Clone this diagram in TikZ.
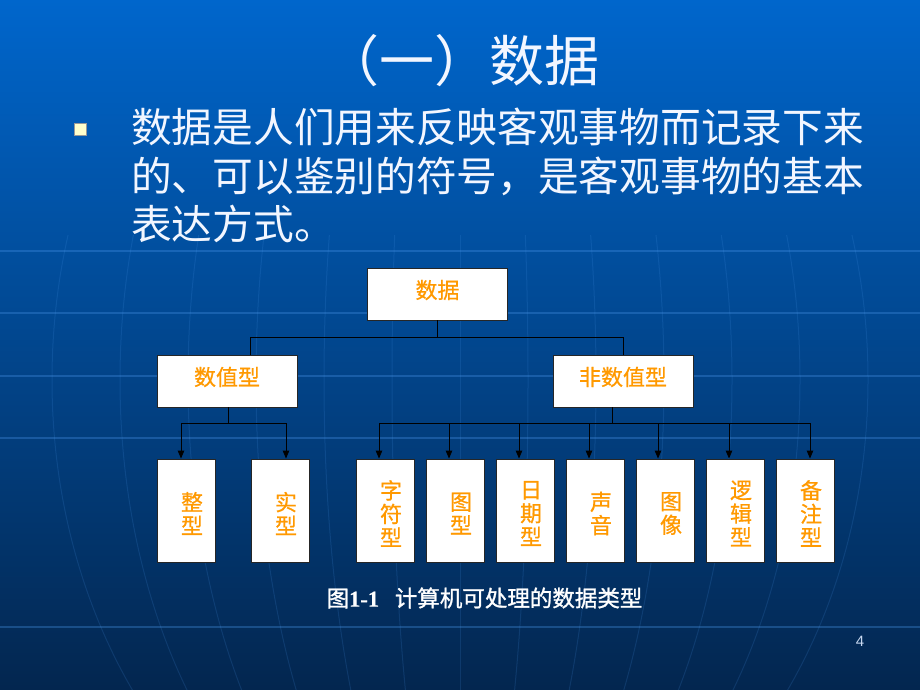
\documentclass[tikz,border=0pt]{standalone}
\usepackage{fontspec}
\setmainfont{Liberation Sans}
\newfontfamily\cjk{Noto Sans CJK SC}
\newfontfamily\cjkm[FakeBold=0.7]{Noto Sans CJK SC}
\newfontfamily\cjkb[FakeBold=1.2]{Noto Sans CJK SC}
\newfontfamily\serifb[FakeBold=0.6]{Liberation Serif Bold}
\usetikzlibrary{arrows.meta}
\definecolor{bgtop}{HTML}{0066CC}
\definecolor{bgmid}{HTML}{0A4E9E}
\definecolor{bgbot}{HTML}{03264F}
\definecolor{gridc}{HTML}{4A96EA}
\definecolor{orangec}{HTML}{FF9900}
\definecolor{bulletc}{HTML}{FFFFCC}
\definecolor{textc}{HTML}{F2F6FF}
\definecolor{pagec}{HTML}{C8D8F0}
\newcommand\boxtxt[1]{\raisebox{4pt}[\height][\depth]{#1}}
\begin{document}
\begin{tikzpicture}[x=1pt,y=-1pt,
  meridian/.style={draw=gridc, line width=1pt, opacity=0.16},
  parallel/.style={draw=gridc, line width=1.2pt, opacity=0.32},
  box/.style={draw=black!85, fill=white, line width=0.9pt, inner sep=0pt},
  topbox/.style={box, minimum width=140pt, minimum height=52pt, text=orangec, font=\cjkm\fontsize{22}{24}\selectfont},
  leafbox/.style={box, minimum width=58pt, minimum height=103pt},
  leaftext/.style={align=center, inner sep=0pt, text=orangec, font=\cjkm\fontsize{22}{23.5}\selectfont},
  conn/.style={draw=black, line width=0.9pt},
  arr/.style={conn, -{Triangle[length=8pt,width=6.5pt]}},
  body/.style={anchor=west, inner sep=0pt, text=textc, font=\cjk\fontsize{40.7}{44}\selectfont}]
\useasboundingbox (0,0) rectangle (920,690);
\shade[top color=bgtop, middle color=bgmid, bottom color=bgbot] (0,0) rectangle (920,690);
% globe grid
\begin{scope}
  \clip (0,235) rectangle (920,690);
  \foreach \k in {1,...,6} \draw[meridian] (460,380) ellipse [x radius=\k*68pt, y radius=520pt];
  \draw[meridian] (460,235) -- (460,690);
\end{scope}
\foreach \yy in {251,313,376,438,627} \draw[parallel] (0,\yy) -- (920,\yy);
% title and text
\node[inner sep=0pt, text=textc, font=\cjk\fontsize{55}{60}\selectfont] (title) at (462,61) {（一）数据};
\node[draw=black!40, line width=0.4pt, fill=bulletc, minimum size=12pt, inner sep=0pt] (bullet) at (80,129) {};
\node[body] (l1) at (131,127) {数据是人们用来反映客观事物而记录下来};
\node[body] (l2) at (131,176) {的、可以鉴别的符号，是客观事物的基本};
\node[body] (l3) at (131,224) {表达方式。};
% diagram boxes
\node[topbox] (root) at (437.5,294) {\boxtxt{数据}};
\node[topbox] (num) at (227,381) {\boxtxt{数值型}};
\node[topbox] (non) at (623,381) {\boxtxt{非数值型}};
\node[leafbox] (L1) at (186,510.5) {};
\node[leafbox] (L2) at (280,510.5) {};
\node[leafbox] (L3) at (385,510.5) {};
\node[leafbox] (L4) at (455,510.5) {};
\node[leafbox] (L5) at (525,510.5) {};
\node[leafbox] (L6) at (595,510.5) {};
\node[leafbox] (L7) at (665,510.5) {};
\node[leafbox] (L8) at (735,510.5) {};
\node[leafbox] (L9) at (805,510.5) {};
\node[leaftext] (T1) at ([xshift=6pt,yshift=-3pt]L1.center) {整\\型};
\node[leaftext] (T2) at ([xshift=6pt,yshift=-3pt]L2.center) {实\\型};
\node[leaftext] (T3) at ([xshift=6pt,yshift=-3pt]L3.center) {字\\符\\型};
\node[leaftext] (T4) at ([xshift=6pt,yshift=-3pt]L4.center) {图\\型};
\node[leaftext] (T5) at ([xshift=6pt,yshift=-3pt]L5.center) {日\\期\\型};
\node[leaftext] (T6) at ([xshift=6pt,yshift=-3pt]L6.center) {声\\音};
\node[leaftext] (T7) at ([xshift=6pt,yshift=-3pt]L7.center) {图\\像};
\node[leaftext] (T8) at ([xshift=6pt,yshift=-3pt]L8.center) {逻\\辑\\型};
\node[leaftext] (T9) at ([xshift=6pt,yshift=-3pt]L9.center) {备\\注\\型};
% connectors, level 1
\coordinate (j0) at (437.5,337);
\coordinate (jL) at (250,337);
\coordinate (jR) at (623,337);
\draw[conn] (root.south) -- (j0);
\draw[conn] (jL) -- (jR);
\draw[conn] (jL) -- (jL |- num.north);
\draw[conn] (jR) -- (jR |- non.north);
% connectors, level 2
\coordinate (bn) at (228,423);
\coordinate (bm) at (612,423);
\coordinate (a1) at (181,423);
\coordinate (a2) at (286,423);
\coordinate (a3) at (379,423);
\coordinate (a4) at (449,423);
\coordinate (a5) at (519,423);
\coordinate (a6) at (589,423);
\coordinate (a7) at (658,423);
\coordinate (a8) at (729,423);
\coordinate (a9) at (810,423);
\draw[conn] (bn |- num.south) -- (bn);
\draw[conn] (bm |- non.south) -- (bm);
\draw[conn] (a1) -- (a2);
\draw[conn] (a3) -- (a9);
\draw[arr] (a1) -- (a1 |- L1.north);
\draw[arr] (a2) -- (a2 |- L2.north);
\draw[arr] (a3) -- (a3 |- L3.north);
\draw[arr] (a4) -- (a4 |- L4.north);
\draw[arr] (a5) -- (a5 |- L5.north);
\draw[arr] (a6) -- (a6 |- L6.north);
\draw[arr] (a7) -- (a7 |- L7.north);
\draw[arr] (a8) -- (a8 |- L8.north);
\draw[arr] (a9) -- (a9 |- L9.north);
% caption and page number
\node[inner sep=0pt, text=white, font=\fontsize{22.5}{26}\selectfont] (cap) at (484.5,598) {{\cjkb 图}{\serifb 1-1}\hspace{0.7em}{\cjkb 计算机可处理的数据类型}};
\node[inner sep=0pt, text=pagec, font=\fontsize{15}{18}\selectfont] (page) at (860,641) {4};
\end{tikzpicture}
\end{document}
